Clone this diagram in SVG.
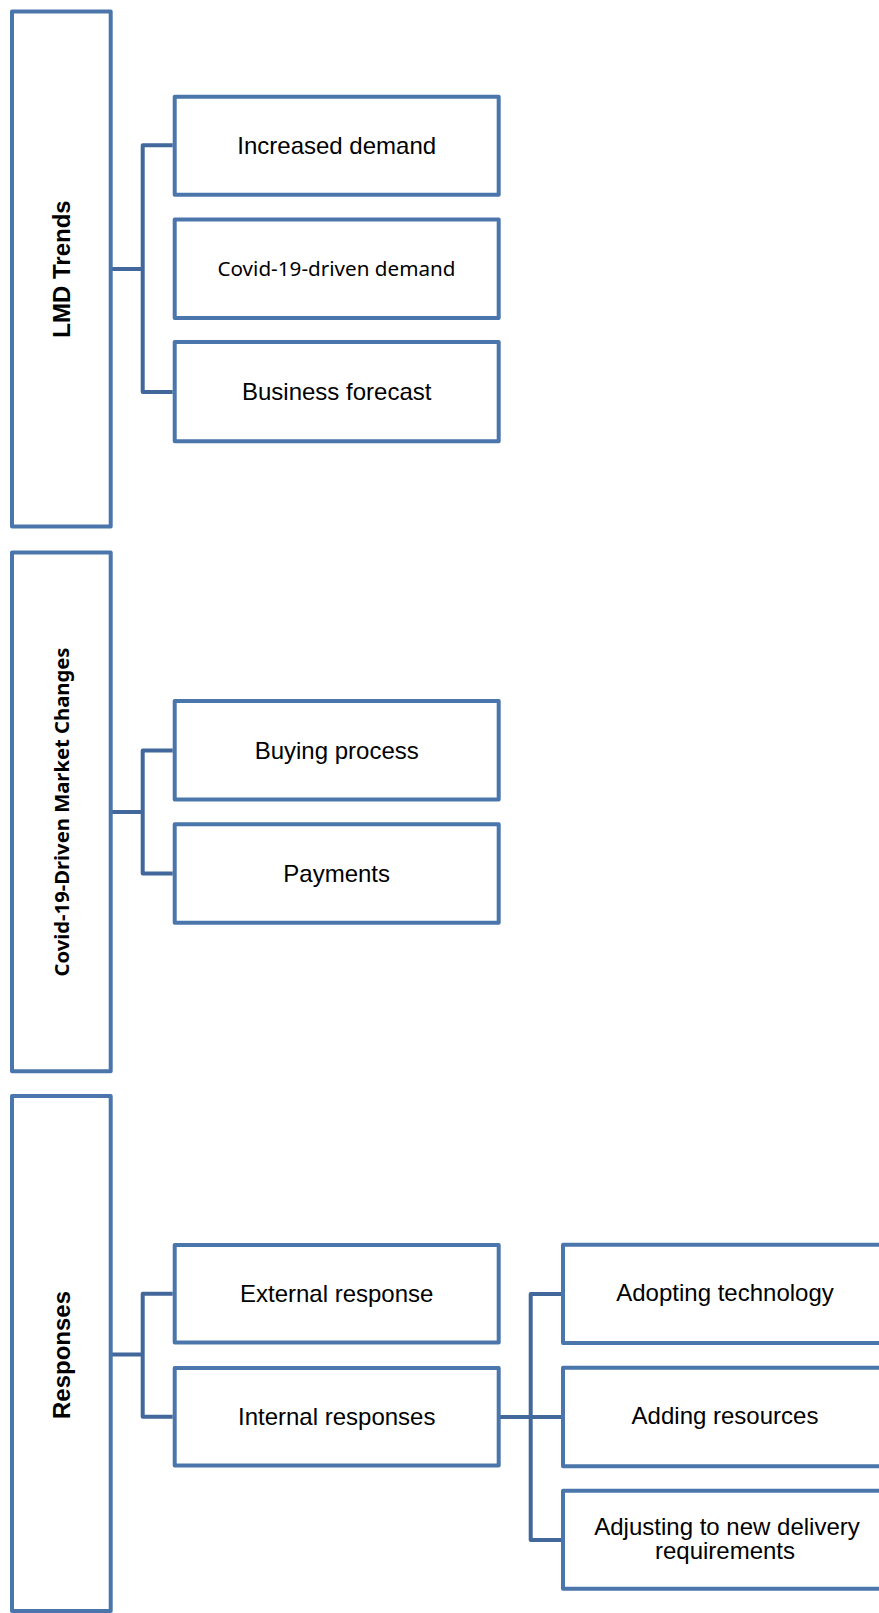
<svg xmlns="http://www.w3.org/2000/svg" width="879" height="1613" viewBox="0 0 879 1613">
<style>
.box{fill:#FFFFFF;stroke:#4A76AC;stroke-width:4;stroke-linejoin:round}
.con{fill:none;stroke:#41679B;stroke-width:4;stroke-linejoin:round}
.t{font-family:"Liberation Sans",Arial,sans-serif;font-size:24px;fill:#000;text-anchor:middle}
.tb{font-family:"Liberation Sans",Arial,sans-serif;font-size:24px;font-weight:bold;fill:#000;text-anchor:middle}
.c{font-family:"Noto Sans","Open Sans",sans-serif;font-size:20.5px;fill:#000;text-anchor:middle}
.cb{font-family:"Noto Sans","Open Sans",sans-serif;font-size:20px;font-weight:bold;fill:#000;text-anchor:middle}
</style>
<rect width="879" height="1613" fill="#FFFFFF"/>
<g id="connectors">
<path class="con" d="M112,269 H142.7 M172.7,145.3 H142.7 V392 H172.7"/>
<path class="con" d="M112,812 H142.7 M172.7,750.5 H142.7 V873.5 H172.7"/>
<path class="con" d="M112,1354.6 H142.7 M172.7,1293.7 H142.7 V1416.8 H172.7"/>
<path class="con" d="M500,1417 H530.7 M561,1294 H530.7 V1540 H561 M530.7,1417 H561"/>
</g>
<g id="lmd-trends">
<rect class="box" x="12" y="11.5" width="98.7" height="515"/>
<text class="tb" transform="translate(70,269) rotate(-90)">LMD Trends</text>
</g>
<g id="increased-demand">
<rect class="box" x="174.7" y="96.7" width="324" height="98"/>
<text class="t" x="336.7" y="153.5">Increased demand</text>
</g>
<g id="covid-driven-demand">
<rect class="box" x="174.7" y="219.5" width="324" height="98.5"/>
<text class="c" x="336.5" y="276" textLength="238" lengthAdjust="spacingAndGlyphs">Covid-19-driven demand</text>
</g>
<g id="business-forecast">
<rect class="box" x="174.7" y="342" width="324" height="99.3"/>
<text class="t" x="336.7" y="399.5">Business forecast</text>
</g>
<g id="market-changes">
<rect class="box" x="12" y="552.5" width="98.7" height="518.8"/>
<text class="cb" transform="translate(69,812) rotate(-90)" textLength="329" lengthAdjust="spacingAndGlyphs">Covid-19-Driven Market Changes</text>
</g>
<g id="buying-process">
<rect class="box" x="174.7" y="701" width="324" height="98.6"/>
<text class="t" x="336.7" y="759">Buying process</text>
</g>
<g id="payments">
<rect class="box" x="174.7" y="824.2" width="324" height="98.6"/>
<text class="t" x="336.7" y="881.8">Payments</text>
</g>
<g id="responses">
<rect class="box" x="12" y="1096" width="98.7" height="515"/>
<text class="tb" transform="translate(69.5,1355) rotate(-90)">Responses</text>
</g>
<g id="external-response">
<rect class="box" x="174.7" y="1245" width="324" height="97.4"/>
<text class="t" x="336.7" y="1301.8">External response</text>
</g>
<g id="internal-responses">
<rect class="box" x="174.7" y="1368" width="324" height="97.6"/>
<text class="t" x="336.7" y="1424.5">Internal responses</text>
</g>
<g id="adopting-technology">
<rect class="box" x="563" y="1244.7" width="324" height="98.3"/>
<text class="t" x="725" y="1301">Adopting technology</text>
</g>
<g id="adding-resources">
<rect class="box" x="563" y="1367.7" width="324" height="98.6"/>
<text class="t" x="725" y="1423.5">Adding resources</text>
</g>
<g id="adjusting">
<rect class="box" x="563" y="1490.7" width="324" height="98"/>
<text class="t"><tspan x="727" y="1535">Adjusting to new delivery</tspan><tspan x="725" y="1558.5">requirements</tspan></text>
</g>
</svg>
